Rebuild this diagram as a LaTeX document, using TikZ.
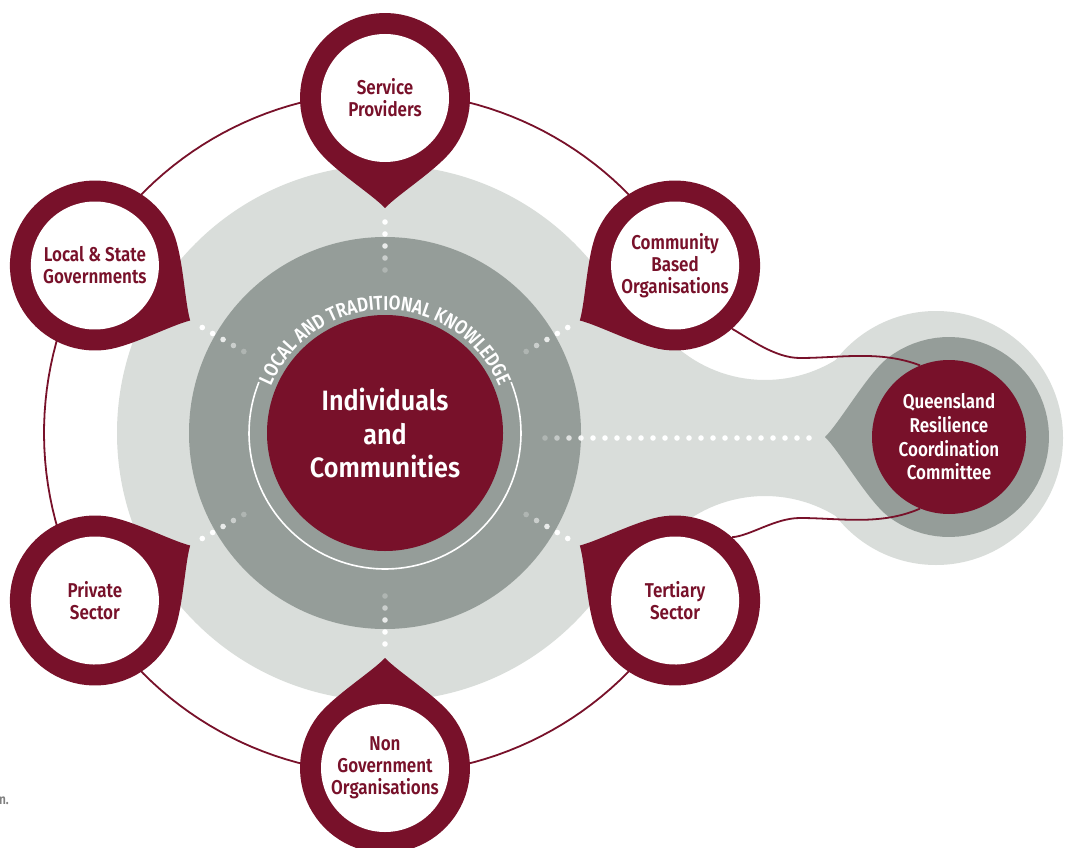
\documentclass[tikz,border=0pt]{standalone}
\usepackage{fontspec}
\newfontfamily\labf[FakeStretch=0.85]{Fira Sans SemiBold}
\newfontfamily\mainfnt[FakeStretch=0.9]{Fira Sans SemiBold}
\usetikzlibrary{decorations.text}
\definecolor{pinred}{HTML}{78112A}
\definecolor{lightg}{HTML}{D9DDDA}
\definecolor{darkg}{HTML}{959D99}
\newcommand\arcfont{\labf\fontsize{20}{20}\selectfont\color{white}}
% pin outline: radius #1, tip distance #2 along +x
\newcommand{\pinpath}[2]{(#2,0) .. controls ({#2-20*cos(44)},{20*sin(44)}) and ({#1*cos(52)+25*sin(52)},{#1*sin(52)-25*cos(52)}) .. ({#1*cos(52)},{#1*sin(52)})
 -- plot[domain=0:1, samples=60] ({#1*cos(52+256*\x)},{#1*sin(52+256*\x)})
 .. controls ({#1*cos(52)+25*sin(52)},{-#1*sin(52)+25*cos(52)}) and ({#2-20*cos(44)},{-20*sin(44)}) .. (#2,0) -- cycle}
\newcommand{\mypin}[5]{%
 \begin{scope}[shift={(#2,#3)}, rotate=#4]
   \fill[pinred] \pinpath{85}{110};
   \fill[white] (0,0) circle[radius=64];
 \end{scope}
 \node[pinlabel] (#1) at (#2,#3) {#5};}
\begin{document}
\begin{tikzpicture}[x=1pt,y=-1pt,
  pinlabel/.style={circle, minimum size=170, inner sep=0pt, text=pinred, align=center, font=\labf\fontsize{20}{22}\selectfont},
  conn/.style={draw=pinred, line width=1.8pt},
  ring/.style={draw=pinred, line width=1.8pt}]
\useasboundingbox (0,0) rectangle (1068,848);
\fill[white] (0,0) rectangle (1068,848);
% outer thin ring joining the pins
\draw[ring] plot[domain=0:1, samples=150] ({385+341*cos(-30-300*\x)},{433+341*sin(-30-300*\x)});
% light grey body
\fill[lightg] (385,433) circle[radius=268];
\fill[lightg] (936,438) circle[radius=127];
\fill[lightg] (600,312.5) -- (648.1,312.5)
  -- plot[domain=0:1,samples=40] ({765+135*cos(150-100*\x)},{245+135*sin(150-100*\x)})
  -- (851.8,527.6)
  -- plot[domain=0:1,samples=40] ({765+135*cos(-50-100*\x)},{631+135*sin(-50-100*\x)})
  -- (600,563.5) -- cycle;
% dark grey
\fill[darkg] (385,433) circle[radius=196];
\begin{scope}[shift={(949,437)}, rotate=180]
  \fill[darkg] \pinpath{100}{124};
\end{scope}
% centre
\node[circle, fill=pinred, minimum size=236, inner sep=0pt, text=white, align=center,
      font=\mainfnt\fontsize{28}{33.5}\selectfont] (ic) at (385,433) {Individuals\\and\\Communities};
\draw[white, line width=1.6pt] plot[domain=-22:202, samples=90] ({385+136*cos(\x)},{433+136*sin(\x)});
\path[decorate, decoration={text along path, text align=center,
  text={|\arcfont|LOCAL AND TRADITIONAL KNOWLEDGE}}]
  plot[domain=185:355, samples=90] ({385+123*cos(\x)},{433+123*sin(\x)});
% dots
\foreach \a in {90,150,30,210,330,270}{
  \foreach \r/\o in {211/1,199/1,187/0.8,175/0.5,163/0.25}{
    \fill[white, opacity=\o] ({385+\r*cos(\a)},{433-\r*sin(\a)}) circle[radius=2.8];
  }}
\foreach \k/\o in {0/0.25,1/0.45,2/0.7,3/0.9,4/1,5/1,6/1,7/1,8/1,9/1,10/1,11/1,12/1,13/1,14/1,15/1,16/1,17/1,18/1,19/1,20/1,21/1,22/1}{
  \fill[white, opacity=\o] ({545+12*\k},438) circle[radius=2.8];}
% pins
\mypin{sp}{385}{98}{270}{Service\\Providers}
\mypin{lsg}{94.9}{265.5}{330}{Local \& State\\Governments}
\mypin{cbo}{675.1}{265.5}{210}{Community\\Based\\Organisations}
\mypin{ps}{94.9}{600.5}{30}{Private\\Sector}
\mypin{ts}{675.1}{600.5}{150}{Tertiary\\Sector}
\mypin{ngo}{385}{768}{90}{Non\\Government\\Organisations}
% Queensland committee
\node[circle, fill=pinred, minimum size=154, inner sep=0pt, text=white, align=center,
      font=\labf\fontsize{20}{23.7}\selectfont] (q) at (949,437) {Queensland\\Resilience\\Coordination\\Committee};
\draw[conn] (cbo.-48) .. controls (750,339) and (775,358) .. (800,358) .. controls (840,358) and (880,350) .. (q.112);
\draw[conn] (ts.48) .. controls (750,536) and (775,518) .. (800,518) .. controls (840,518) and (880,526) .. (q.-112);
% cropped fragment at left edge
\node[anchor=east, inner sep=0pt, text=gray, font=\labf\fontsize{14}{14}\selectfont] (frag) at (9,801) {n.};
\end{tikzpicture}
\end{document}
